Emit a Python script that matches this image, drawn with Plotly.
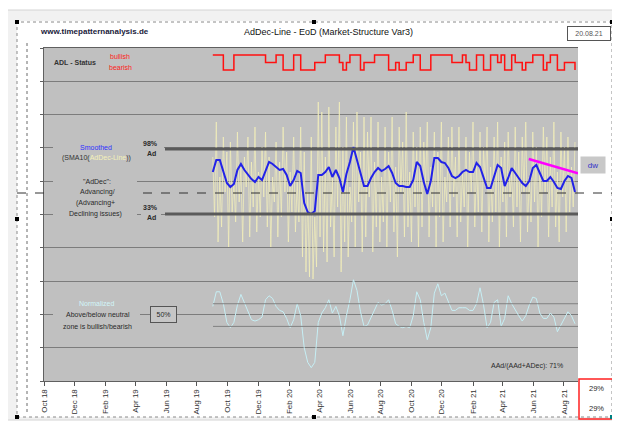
import pandas as pd
import plotly.graph_objects as go

# ---------------- data ----------------
START = "2019-09-02"
N_WEEKS = 104

# SMA10 of the AdDec line (weekly readings), upper-panel units
blue_sma = [75, 87, 87, 76, 64, 60, 63, 77, 83, 77,
            72, 68, 65, 70, 67, 77, 85, 83, 80, 77,
            78, 72, 61, 67, 76, 74, 44, 35, 33, 36,
            72, 72, 75, 80, 70, 77, 69, 55, 73, 85,
            100, 87, 72, 61, 61, 69, 75, 79, 76, 78,
            81, 74, 64, 61, 61, 60, 60, 67, 85, 81,
            65, 53, 66, 89, 89, 85, 84, 79, 71, 69,
            71, 75, 77, 75, 75, 84, 80, 69, 59, 59,
            70, 82, 79, 61, 69, 79, 74, 69, 64, 61,
            66, 79, 82, 74, 66, 66, 70, 65, 59, 58,
            66, 71, 69, 55]

# Normalized line (%), weekly readings
normalized = [56, 67, 67, 58, 44, 40, 44, 57, 65, 59,
              52, 46, 45, 46, 48, 61, 64, 62, 56, 53,
              52, 47, 40, 46, 58, 49, 25, 14, 10, 14,
              44, 51, 55, 61, 51, 56, 49, 34, 49, 61,
              76, 68, 52, 41, 42, 48, 53, 59, 57, 58,
              61, 53, 43, 41, 40, 41, 40, 49, 67, 61,
              44, 31, 40, 66, 73, 64, 66, 59, 53, 53,
              55, 55, 55, 53, 53, 58, 70, 57, 40, 44,
              59, 61, 41, 47, 64, 58, 53, 49, 45, 49,
              57, 63, 62, 51, 47, 47, 51, 48, 37, 42,
              47, 52, 49, 43]

# ADL status: 1 = bullish, 0 = bearish, 0.5 = neutral
adl_status = [1, 1, 1, 0, 0, 0, 1, 1, 1, 1,
              1, 1, 1, 1, 1, .5, .5, .5, 1, 1,
              0, 0, 0, 1, 1, 0, 0, 0, 0, .5,
              .5, .5, 1, 1, 1, 1, .5, 0, .5, 1,
              1, 1, 0, .5, .5, .5, 1, 1, 1, 1,
              0, 0, .5, 0, 0, .5, .5, 1, 1, 0,
              0, 0, 1, 1, 1, 1, 1, 1, .5, .5,
              .5, 1, .5, 0, 0, 1, 1, 0, 0, 1,
              1, .5, 1, 0, 0, 1, .5, .5, 0, .5,
              .5, 1, 1, 1, 0, .5, 1, 1, 0, 0,
              .5, .5, .5, 0]

# raw AdDec line (twice-weekly readings)
addec_raw = [90, 30, 125, 5, 70, 20, 110, 55, 95, 0,
             105, 35, 65, 25, 115, 45, 80, 5, 90, 60,
             110, 10, 85, 40, 120, 15, 75, 30, 100, 50,
             115, 20, 90, 0, 70, 45, 105, 10, 85, 30,
             120, 55, 95, 5, 75, 35, 110, 15, 65, 25,
             120, -10, 95, -25, 55, -30, 110, -32, 30, -20, 145, 10,
             135, -5, 90, -15, 140, 20, 70, -10, 120, 40,
             145, -25, 100, 5, 130, -10, 60, 25, 125, 0,
             135, 45, 95, -5, 130,
             10, 115, 50, 130, -5, 85, 20, 125, 5, 70,
             25, 120, 0, 95, 45, 130, 15, 80, -10, 120,
             55, 105, 10, 135, 20, 75, 5, 115, 40, 100,
             0, 120,
             20, 105, 60, 125, 10, 80, 40, 115, 0, 95,
             30, 125, 5, 70, 45, 110, 20, 120, 50, 90,
             10, 120, 25, 75, 40, 110, 0, 95, 55, 125,
             20, 85, 35, 115,
             15, 100, 60, 120, 5, 80, 25, 110, 35, 125,
             0, 90, 45, 105, 10, 115, 50, 75, 20, 120,
             40, 95, 5, 110, 55, 125, 15, 70, 25, 115,
             45, 100, 0, 85, 30, 120, 55, 110, 10, 90,
             40, 125, 20, 75, 5, 115, 50, 100, 15, 110,
             35, 80, 40, 105]

trend_dates = ["2021-05-23", "2021-08-29"]
trend_vals = [88, 73.6]

ref_98, ref_33 = 98, 33
neutral_dash = 54
zone_hi, zone_lo = 58, 41

week_dates = pd.date_range(START, periods=N_WEEKS, freq="7D")
raw_dates = pd.date_range(START, periods=len(addec_raw), freq="84h")

# ---------------- layout helpers ----------------
OFF = 8                      # page body margin
W, H = 620 - OFF, 423 - OFF
L, R, T, B = 44, 578, 48, 381   # plot area in window pixels
FONT = "Liberation Sans, Arial, sans-serif"
GREY = "#c0c0c0"


def fx(p):
    return (p - L) / (R - L)


def fy(p):
    return (B - p) / (B - T)


fig = go.Figure()
fig.add_trace(go.Scatter(x=raw_dates, y=addec_raw, mode="lines",
                         line=dict(color="rgba(244,240,186,0.72)", width=1),
                         hoverinfo="skip"))
fig.add_trace(go.Scatter(x=week_dates, y=blue_sma, mode="lines",
                         line=dict(color="#2222e8", width=2),
                         hoverinfo="skip"))
fig.add_trace(go.Scatter(x=week_dates, y=normalized, yaxis="y2", mode="lines",
                         line=dict(color="#c6eff5", width=1),
                         hoverinfo="skip"))
fig.add_trace(go.Scatter(x=week_dates, y=adl_status, yaxis="y3", mode="lines",
                         line=dict(color="#ff1010", width=1.5, shape="hv"),
                         hoverinfo="skip"))
fig.add_trace(go.Scatter(x=trend_dates, y=trend_vals, mode="lines",
                         line=dict(color="#ff00ff", width=2.5),
                         hoverinfo="skip"))

shapes = []


def rect(x0, y0, x1, y1, fill=None, line=None, lw=0, dash=None, layer="above"):
    d = dict(type="rect", xref="paper", yref="paper",
             x0=fx(x0), x1=fx(x1), y0=fy(y1), y1=fy(y0), layer=layer,
             line=dict(width=lw, color=line or "rgba(0,0,0,0)"))
    if dash:
        d["line"]["dash"] = dash
    d["fillcolor"] = fill or "rgba(0,0,0,0)"
    return d


# outer frame bands
shapes += [rect(6, 10, 17, 420, fill="#f1f1f1"),
           rect(6, 10, 616, 21, fill="#f1f1f1"),
           rect(612, 10, 616, 420, fill="#f1f1f1"),
           rect(6, 417, 616, 420, fill="#f1f1f1"),
           rect(6, 10, 616, 420, line="#d4d4d4", lw=1),
           rect(17, 22, 612, 417, line="#8a8a8a", lw=1, dash="dot")]
# vertical dotted line at left
shapes.append(dict(type="line", xref="paper", yref="paper", x0=fx(27), x1=fx(27),
                   y0=fy(43), y1=fy(412), line=dict(color="#6a6a6a", width=1, dash="dot")))
# reference lines
for v in (ref_98, ref_33):
    shapes.append(dict(type="line", xref="paper", yref="y", x0=fx(165), x1=1.0,
                       y0=v, y1=v, line=dict(color="#5a5a5a", width=3)))
shapes.append(dict(type="line", xref="paper", yref="y", x0=fx(17), x1=fx(612),
                   y0=neutral_dash, y1=neutral_dash,
                   line=dict(color="#303030", width=1, dash="dash")))
for v in (zone_hi, zone_lo):
    shapes.append(dict(type="line", xref="paper", yref="y2", x0=fx(213), x1=1.0,
                       y0=v, y1=v, line=dict(color="#808080", width=1)))
# label covers
shapes += [rect(53, 139, 137, 222, fill=GREY),
           rect(137, 138, 164, 158, fill=GREY),
           rect(141, 202, 161, 221, fill=GREY),
           rect(53, 296, 140, 334, fill=GREY)]
# red box bottom right
shapes.append(rect(579, 379, 613, 419, line="#ff2020", lw=1.5))
# selection handles
for (hx, hy) in [(17, 22), (314, 22), (612, 22), (17, 219), (612, 219),
                 (17, 417), (314, 417)]:
    shapes.append(rect(hx - 2, hy - 2, hx + 2, hy + 2, fill="#000000"))
shapes.append(rect(610, 415, 614, 419, fill="#008080"))

ann = []


def a(text, x, y, size=7, color="#2a2a2a", **kw):
    d = dict(text=text, x=fx(x), y=fy(y), xref="paper", yref="paper",
             showarrow=False, xanchor="center", yanchor="middle",
             font=dict(size=size, color=color, family=FONT))
    d.update(kw)
    ann.append(d)


a("<b>www.timepatternanalysis.de</b>", 94, 32, size=8, color="#20203a")
a("AdDec-Line - EoD (Market-Structure Var3)", 328, 32, size=9, color="#111111")
a("20.08.21", 589, 33, size=7, color="#555555", bordercolor="#555555",
  borderwidth=1, width=40, height=11, bgcolor="#ffffff")
a("<b>ADL - Status</b>", 75, 62, size=7, color="#333333")
a("bullish", 120, 57, size=7, color="#ff2020")
a("bearish", 120, 68, size=7, color="#ff2020")
a("Smoothed", 96, 147, size=7, color="#2e2eff")
a("(SMA10(<span style='color:#f4f0b8'>AdDec-Line</span>))", 96, 158, size=7, color="#333333")
a("<b>98%</b>", 150, 143)
a("<b>Ad</b>", 151, 153)
a("\"AdDec\":", 97, 181)
a("Advancing/", 97, 192)
a("(Advancing+", 95, 203)
a("Declining issues)", 95, 214)
a("<b>33%</b>", 150, 207)
a("<b>Ad</b>", 151, 217)
a("Normalized", 97, 303, color="#d2f6fa")
a("Above/below neutral", 98, 314)
a("zone is bullish/bearish", 97, 326)
a("50%", 163, 314, size=7, bordercolor="#555555", borderwidth=1, width=23,
  height=13, bgcolor="#c6c6c6")
a("AAd/(AAd+ADec): 71%", 527, 366, size=7)
a("dw", 593, 165, size=8, color="#3030c8", width=22, height=14, bgcolor="#c8c8c8")
a("29%", 596, 389, size=7.5)
a("29%", 596, 408, size=7.5)

fig.update_layout(
    width=W, height=H,
    margin=dict(l=L - OFF, r=W - (R - OFF), t=T - OFF, b=H - (B - OFF)),
    paper_bgcolor="#ffffff", plot_bgcolor=GREY,
    showlegend=False,
    font=dict(family=FONT, size=7, color="#333333"),
    xaxis=dict(type="date", range=["2018-10-01", "2021-08-29"],
               tick0="2018-10-01", dtick="M2", tickformat="%b %y",
               tickangle=-90, ticks="outside", ticklen=4, tickcolor="#555555",
               tickfont=dict(size=8, color="#333333", family=FONT),
               showgrid=False, showline=True, linecolor="#606060", mirror=True,
               zeroline=False, automargin=False),
    yaxis=dict(range=[-134, 199], tick0=-134, dtick=33.3, showgrid=True,
               gridcolor="#7c7c7c", gridwidth=1, showticklabels=False,
               ticks="outside", ticklen=3, tickcolor="#606060",
               showline=True, linecolor="#606060", zeroline=False,
               automargin=False),
    yaxis2=dict(range=[0, 250], overlaying="y", visible=False),
    yaxis3=dict(range=[-20.733, 1.467], overlaying="y", visible=False),
    shapes=shapes,
    annotations=ann,
)

fig.write_html("out.html")
